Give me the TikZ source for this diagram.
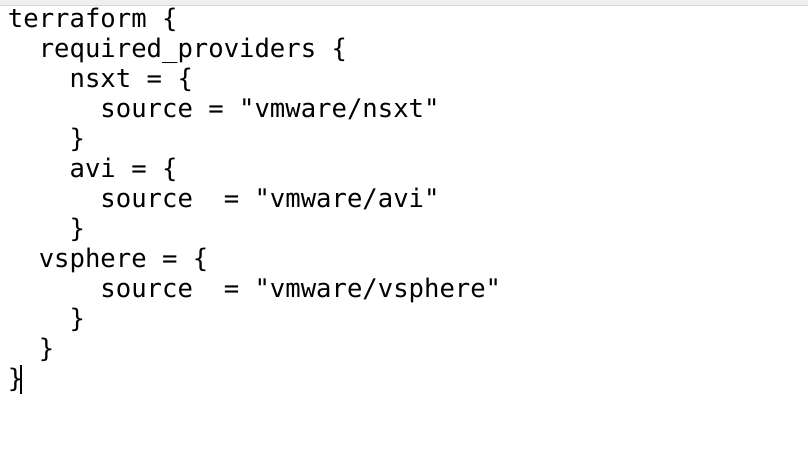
\documentclass[tikz,border=0pt]{standalone}
\usepackage{fontspec}
\setmonofont{DejaVu Sans Mono}
\begin{document}
\begin{tikzpicture}[x=1pt,y=-1pt,
  codeline/.style={anchor=base west,inner sep=0pt,outer sep=0pt,font=\ttfamily\fontsize{25.6}{30}\selectfont,text=black}]
\useasboundingbox (0,0) rectangle (808,450);
\fill[white] (0,0) rectangle (808,450);
\fill[fill={rgb,255:red,238;green,239;blue,241}] (0,0) rectangle (808,4.5);
\draw[draw={rgb,255:red,214;green,214;blue,214},line width=1pt] (0,5) -- (808,5);
\def\cw{15.41}
\node[codeline] (l1)  at (8,27) {terraform \{};
\node[codeline] (l2)  at (8+2*\cw,57) {required\_providers \{};
\node[codeline] (l3)  at (8+4*\cw,87) {nsxt = \{};
\node[codeline] (l4)  at (8+6*\cw,117) {source\ =\ "vmware/nsxt"};
\node[codeline] (l5)  at (8+4*\cw,147) {\}};
\node[codeline] (l6)  at (8+4*\cw,177) {avi = \{};
\node[codeline] (l7)  at (8+6*\cw,207) {source\ \ =\ "vmware/avi"};
\node[codeline] (l8)  at (8+4*\cw,237) {\}};
\node[codeline] (l9)  at (8+2*\cw,267) {vsphere = \{};
\node[codeline] (l10) at (8+6*\cw,297) {source\ \ =\ "vmware/vsphere"};
\node[codeline] (l11) at (8+4*\cw,327) {\}};
\node[codeline] (l12) at (8+2*\cw,357) {\}};
\node[codeline] (l13) at (8,387) {\}};
\draw[line width=2pt,black] (20.5,365) -- (20.5,394);
\end{tikzpicture}
\end{document}
